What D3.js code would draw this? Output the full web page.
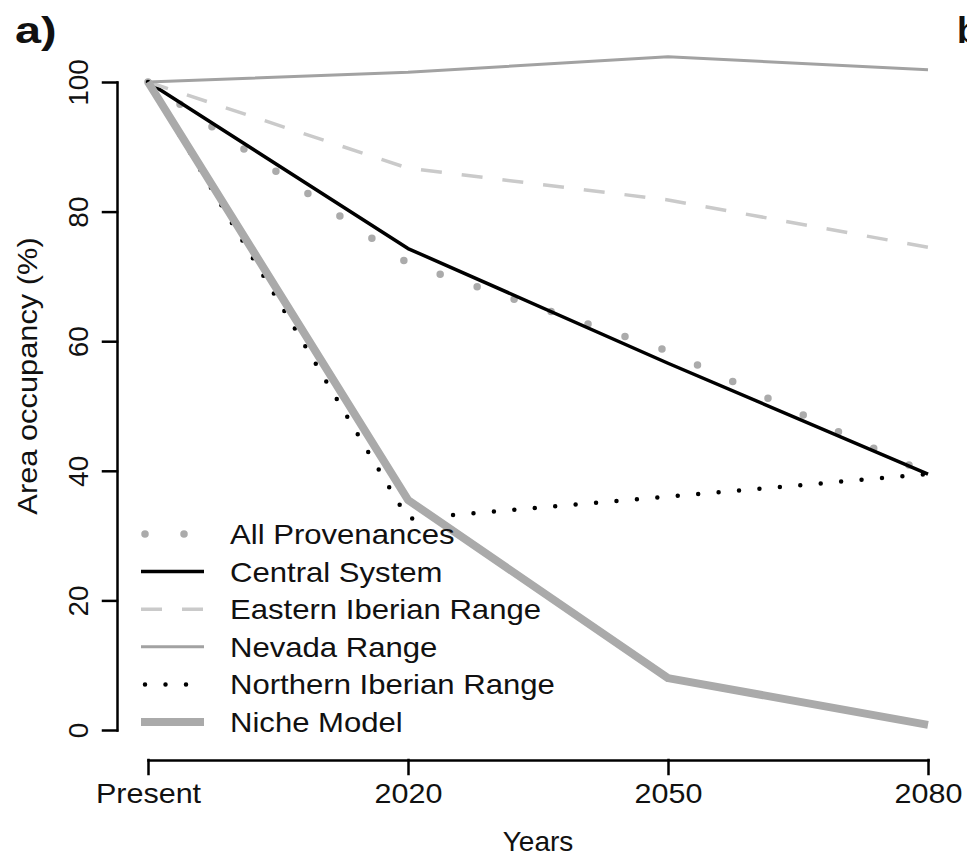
<!DOCTYPE html>
<html>
<head>
<meta charset="utf-8">
<script src="https://d3js.org/d3.v7.min.js"></script>
<style>
  body { margin: 0; background: #fff; }
  text { font-family: 'Liberation Sans', Arial, sans-serif; fill: #111; }
</style>
</head>
<body>
<div id="chart"></div>
<script>
// periods on the x axis
var periods = ['Present', '2020', '2050', '2080'];
var yTicks = [0, 20, 40, 60, 80, 100];

// area occupancy (%) per period
var allProvenances = [100, 72, 58.5, 39.5];
var centralSystem = [100, 74.3, 56.6, 39.5];
var easternIberian = [100, 86.7, 81.8, 74.5];
var nevadaRange = [100, 101.5, 103.9, 101.9];
var northernIberian = [100, 32.6, 36, 39.5];
var nicheModel = [100, 35.5, 8, 0.8];

var width = 967, height = 856;

var series = [
  { name: 'All Provenances', values: allProvenances, color: '#ababab', width: 7.5, dash: '0 39', cap: 'round' },
  { name: 'Central System', values: centralSystem, color: '#000', width: 3.5, dash: null, cap: 'butt' },
  { name: 'Eastern Iberian Range', values: easternIberian, color: '#cacaca', width: 3.5, dash: '21 20', cap: 'butt' },
  { name: 'Nevada Range', values: nevadaRange, color: '#a2a2a2', width: 3, dash: null, cap: 'butt' },
  { name: 'Northern Iberian Range', values: northernIberian, color: '#000', width: 4.5, dash: '0 20.5', cap: 'round' },
  { name: 'Niche Model', values: nicheModel, color: '#aaaaaa', width: 8, dash: null, cap: 'butt' }
];

// the original text is a bit wider than Liberation Sans
function stretch(sel, k) {
  sel.each(function () {
    var len = this.getComputedTextLength();
    d3.select(this)
      .attr('textLength', len * k)
      .attr('lengthAdjust', 'spacingAndGlyphs');
  });
}

var svg = d3.select('#chart').append('svg')
  .attr('width', width)
  .attr('height', height);

var x = d3.scalePoint()
  .domain(periods)
  .range([148, 928]);

var y = d3.scaleLinear()
  .domain([0, 100])
  .range([730, 82]);

// axes, R style: only spanning the ticks
var xAxis = d3.axisBottom(x).tickSize(14).tickSizeOuter(0);
var gx = svg.append('g')
  .attr('transform', 'translate(0, 760)')
  .call(xAxis);
gx.select('.domain').attr('stroke', '#000').attr('stroke-width', 2.5);
gx.selectAll('.tick line').attr('stroke', '#000').attr('stroke-width', 2.5);
gx.selectAll('.tick text')
  .attr('y', 43)
  .attr('dy', 0)
  .style('font-size', '28px')
  .call(stretch, 1.09);

var yAxis = d3.axisLeft(y).tickValues(yTicks).tickSize(14).tickSizeOuter(0);
var gy = svg.append('g')
  .attr('transform', 'translate(117, 0)')
  .call(yAxis);
gy.select('.domain').attr('stroke', '#000').attr('stroke-width', 2.5);
gy.selectAll('.tick line').attr('stroke', '#000').attr('stroke-width', 2.5);
gy.selectAll('.tick text')
  .attr('x', null)
  .attr('dy', '0.35em')
  .attr('transform', 'translate(-39, 0) rotate(-90)')
  .style('text-anchor', 'middle')
  .style('font-size', '28px');

svg.selectAll('.domain, .tick line').attr('stroke-linecap', 'square');

// axis titles
svg.append('text')
  .attr('x', 538)
  .attr('y', 851)
  .style('text-anchor', 'middle')
  .style('font-size', '28px')
  .text('Years');

svg.append('text')
  .attr('transform', 'translate(37, 376) rotate(-90)')
  .style('text-anchor', 'middle')
  .style('font-size', '28px')
  .text('Area occupancy (%)')
  .call(stretch, 1.1);

// panel labels
svg.append('text')
  .attr('x', 15)
  .attr('y', 43)
  .style('font-size', '36px')
  .style('font-weight', 'bold')
  .text('a)')
  .call(stretch, 1.3);

svg.append('text')
  .attr('x', 957)
  .attr('y', 43)
  .style('font-size', '36px')
  .style('font-weight', 'bold')
  .text('b)');

var line = d3.line()
  .x((d, i) => x(periods[i]))
  .y(d => y(d));

svg.selectAll('.series')
  .data(series)
  .enter()
  .append('path')
  .attr('class', 'series')
  .attr('d', d => line(d.values))
  .attr('fill', 'none')
  .attr('stroke', d => d.color)
  .attr('stroke-width', d => d.width)
  .attr('stroke-dasharray', d => d.dash)
  .attr('stroke-linecap', d => d.cap)
  .attr('stroke-linejoin', 'round');

// legend
var legendY = d3.scaleLinear()
  .domain([0, series.length - 1])
  .range([534, 722]);

var legend = svg.selectAll('.legend')
  .data(series)
  .enter()
  .append('g')
  .attr('class', 'legend')
  .attr('transform', (d, i) => `translate(0, ${legendY(i)})`);

legend.append('line')
  .attr('x1', d => d.cap === 'round' ? 145 : 141)
  .attr('x2', d => d.cap === 'round' ? 205 : 204)
  .attr('stroke', d => d.color)
  .attr('stroke-width', d => d.width)
  .attr('stroke-dasharray', d => d.dash)
  .attr('stroke-linecap', d => d.cap);

legend.append('text')
  .attr('x', 230)
  .attr('dy', '0.36em')
  .style('font-size', '28px')
  .text(d => d.name)
  .call(stretch, 1.11);
</script>
</body>
</html>
